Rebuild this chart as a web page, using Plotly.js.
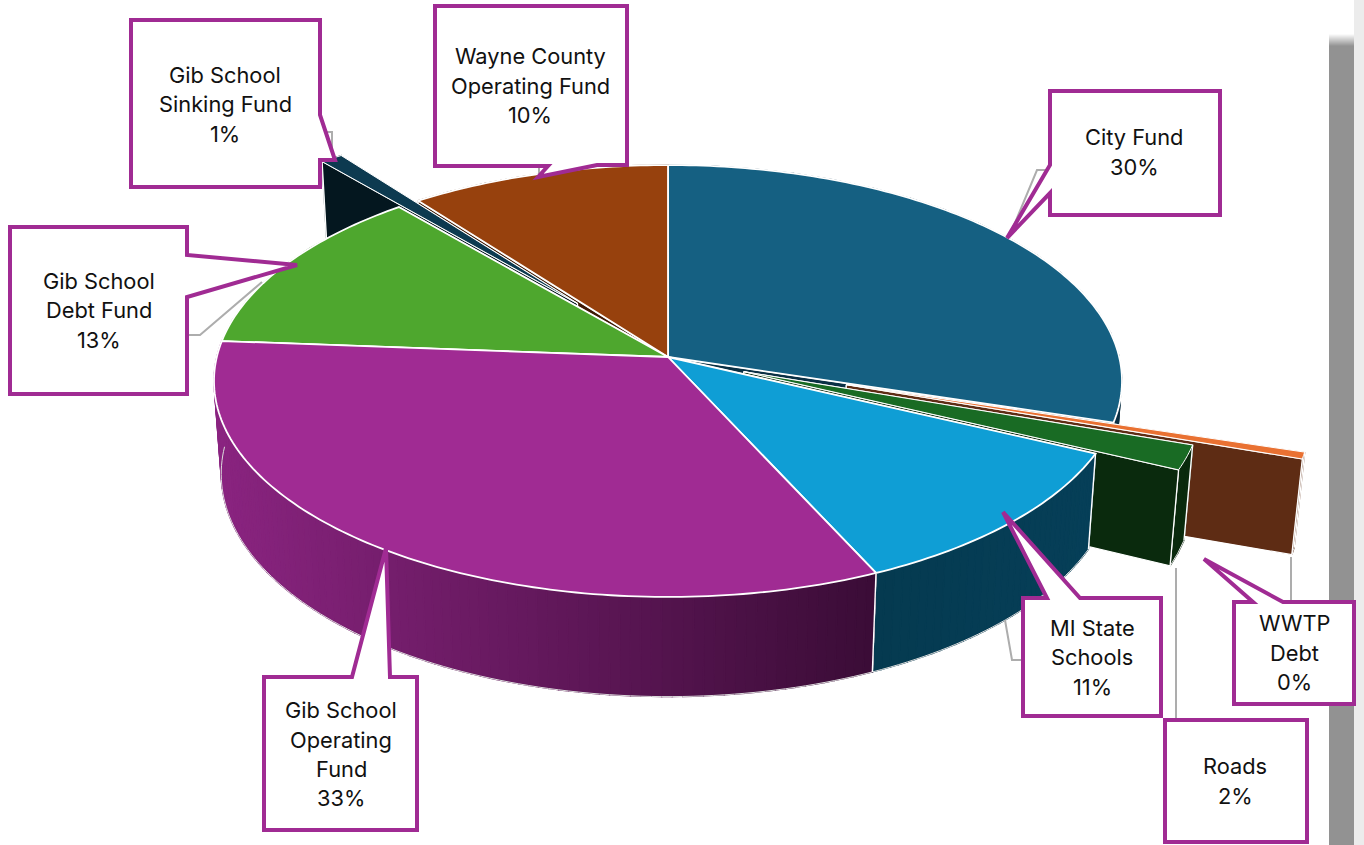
<!DOCTYPE html>
<html><head><meta charset="utf-8">
<script src="https://cdn.plot.ly/plotly-3.0.1.min.js"></script>
<style>html,body{margin:0;padding:0;background:#fff;overflow:hidden}#c{width:1364px;height:845px}</style>
</head><body><div id="c"></div>
<script>
// ---- data (clockwise from 12 o'clock) ----
const categories = ["City Fund","WWTP Debt","Roads","MI State Schools","Gib School Operating Fund","Gib School Debt Fund","Gib School Sinking Fund","Wayne County Operating Fund"];
const values     = [29.8, 0.49, 1.81, 11.1, 33.0, 12.6, 0.9, 10.3];
const explode    = [0, 0.41, 0.18, 0, 0, 0, 0.33, 0];
const topColors  = ["#156082","#e97132","#196b24","#0f9ed5","#a02b93","#4ea72e","#0d3a50","#97410d"];
const wallColors = [["#0a3044","#0a3044"],["#5e2c14","#5e2c14"],["#0a2a0d","#0a2a0d"],["#063f58","#053a50"],["#3a0c36","#8a2480"],["#27541a","#27541a"],["#04171f","#04171f"],["#3f1a05","#3f1a05"]];
const labelLines = [["City Fund"],["WWTP","Debt"],["Roads"],["MI State","Schools"],["Gib School","Operating","Fund"],["Gib School","Debt Fund"],["Gib School","Sinking Fund"],["Wayne County","Operating Fund"]];
const drawOrder  = [0,7,6,5,1,2,3,4];

// ---- projection of the tilted disc ----
const cx=668, cy=357, A=451.2, B=213.3, H=94, K=1/9, M=0.016;
function P(u,v,z){const w=1+K*v+M*z;return [cx+A*u/w, cy+(-B*v+H*z)/w];}
const rad=d=>d*Math.PI/180;
function hex(c){return [1,3,5].map(i=>parseInt(c.slice(i,i+2),16));}
function mix(a,b,t){const p=hex(a),q=hex(b);return 'rgb('+p.map((x,i)=>Math.round(x+(q[i]-x)*t)).join(',')+')';}
const traces=[];
function line(pts,color,lw){
  traces.push({type:'scatter',mode:'lines',x:pts.map(p=>p[0]),y:pts.map(p=>p[1]),line:{color,width:lw,simplify:false},hoverinfo:'skip',showlegend:false});
}
function poly(pts,fill,lineColor,lw){
  traces.push({type:'scatter',mode:'lines',x:pts.map(p=>p[0]).concat(pts[0][0]),y:pts.map(p=>p[1]).concat(pts[0][1]),
    fill:'toself',fillcolor:fill,line:{color:lineColor,width:lw,simplify:false},hoverinfo:'skip',showlegend:false});
}
const total=values.reduce((a,b)=>a+b,0);
let acc=0;
const slices=values.map((val,i)=>{const s=acc/total*360;acc+=val;const e=acc/total*360;const m=(s+e)/2;
  return {i,s,e,m,ax:explode[i]*Math.sin(rad(m)),ay:explode[i]*Math.cos(rad(m))};});
function rimPt(sl,deg,z){return P(sl.ax+Math.sin(rad(deg)),sl.ay+Math.cos(rad(deg)),z);}
function drawSlice(sl){
  const [c0,c1]=wallColors[sl.i];
  const narrow=(sl.e-sl.s)<8;
  const radial=deg=>{const a=P(sl.ax,sl.ay,0),b=rimPt(sl,deg,0),c=rimPt(sl,deg,1),d=P(sl.ax,sl.ay,1);poly([a,b,c,d],deg===sl.s?c0:c1,'#ffffff',1.2);};
  const rim=()=>{
    const n=Math.max(1,Math.ceil((sl.e-sl.s)/(c0===c1?6:1.2)));
    const samples=[];for(let j=0;j<=n;j++)samples.push(rimPt(sl,sl.s+(sl.e-sl.s)*j/n,0)[0]);
    const xMax=Math.max(...samples),xMin=Math.min(...samples);
    for(let j=0;j<n;j++){const d0=sl.s+(sl.e-sl.s)*j/n,d1=sl.s+(sl.e-sl.s)*(j+1)/n;
      const xm=(samples[j]+samples[j+1])/2;
      const col=mix(c0,c1,xMax>xMin?(xMax-xm)/(xMax-xMin):0);
      poly([rimPt(sl,d0,0),rimPt(sl,d1,0),rimPt(sl,d1,1),rimPt(sl,d0,1)],col,col,1.3);}
    // faint outline along the lower edge, only on the part of the rim that faces the viewer
    const bottom=[];for(let j=0;j<=n;j++){const d=sl.s+(sl.e-sl.s)*j/n;if(Math.cos(rad(d))<0.02)bottom.push(rimPt(sl,d,1));}
    if(bottom.length>1)line(bottom,'#dcdcdc',1);
    line([rimPt(sl,sl.s,0),rimPt(sl,sl.s,1)],'#ffffff',1.4);
    line([rimPt(sl,sl.e,0),rimPt(sl,sl.e,1)],'#ffffff',1.4);
  };
  const faces=[{n:sl.s-90,f:()=>radial(sl.s)},{n:sl.e+90,f:()=>radial(sl.e)},{n:sl.m,f:rim}];
  faces.sort((a,b)=>Math.cos(rad(b.n))-Math.cos(rad(a.n))).forEach(o=>o.f());
  const top=[P(sl.ax,sl.ay,0)];
  const n=Math.max(2,Math.ceil(sl.e-sl.s));
  for(let j=0;j<=n;j++) top.push(rimPt(sl,sl.s+(sl.e-sl.s)*j/n,0));
  poly(top,topColors[sl.i],'#ffffff',narrow?1:1.8);
}
drawOrder.forEach(i=>drawSlice(slices[i]));

// ---- callouts ----
const border='#a02b93';
const calloutPaths=[
 'M1050,91 L1220,91 L1220,215 L1050,215 L1050,193 L1007,238 L1050,165 Z',
 'M435,6 L627,6 L627,165 L597,165 L538,177 L548,166 L435,166 Z',
 'M131,20 L320,20 L320,115 L335,160 L320,160 L320,187 L131,187 Z',
 'M10,227 L187,227 L187,255 L297,265 L187,297 L187,394 L10,394 Z',
 'M264,677 L352,677 L386,548 L390,677 L417,677 L417,830 L264,830 Z',
 'M1023,598 L1047,598 L1003,512 L1080,598 L1161,598 L1161,716 L1023,716 Z',
 'M1234,602 L1253,602 L1204,559 L1283,602 L1354,602 L1354,704 L1234,704 Z',
 'M1165,720 L1307,720 L1307,842 L1165,842 Z'
];
const leaderPaths=[
 'M1012,230 L1037,170 L1050,170','M539,177 L539,165','M320,132 L332,132 L332,158',
 'M188,335 L200,335 L262,282','M1005,620 L1012,660 L1023,660','M1176,568 L1176,720','M1291,557 L1291,602'
];
const shapes=[];
// scrollbar strip
shapes.push({type:'rect',xref:'x',yref:'y',x0:1354,x1:1364,y0:0,y1:845,fillcolor:'#ececec',line:{width:0},layer:'below'});
shapes.push({type:'rect',xref:'x',yref:'y',x0:1329,x1:1354,y0:46,y1:845,fillcolor:'#929292',line:{width:0},layer:'below'});
for(let i=0;i<12;i++){const t=(i+.5)/12;shapes.push({type:'rect',xref:'x',yref:'y',x0:1329,x1:1354,y0:34+i,y1:35+i,fillcolor:mix('#ffffff','#929292',t),line:{width:0},layer:'below'});}
leaderPaths.forEach(p=>shapes.push({type:'path',path:p,xref:'x',yref:'y',line:{color:'#adadad',width:2},layer:'above'}));
calloutPaths.forEach(p=>shapes.push({type:'path',path:p,xref:'x',yref:'y',fillcolor:'#ffffff',line:{color:border,width:4},layer:'above'}));

// ---- label text: [category index, centre x, line centre ys] ----
const labelPlaces=[[0,1134,[138,168]],[7,530,[57,87,116]],[6,225,[76,105,135]],[5,99,[282,311,341]],[4,341,[711,741,770,799]],[3,1092,[629,658,688]],[1,1294,[624,654,683]],[2,1235,[767,797]]];
const annotations=[];
labelPlaces.forEach(([i,x,ys])=>{
  const lines=labelLines[i].concat(Math.round(values[i]/total*100)+'%');
  lines.forEach((t,k)=>annotations.push({xref:'x',yref:'y',x,y:ys[k]-0.8,text:t,showarrow:false,xanchor:'center',yanchor:'middle',
    font:{family:'Inter, "Noto Sans", sans-serif',size:21.8,color:'#111111'}}));
});

Plotly.newPlot('c',traces,{
  width:1364,height:845,margin:{l:0,r:0,t:0,b:0},paper_bgcolor:'#ffffff',plot_bgcolor:'rgba(0,0,0,0)',showlegend:false,
  xaxis:{range:[0,1364],visible:false,fixedrange:true},
  yaxis:{range:[845,0],visible:false,fixedrange:true},
  shapes,annotations,hovermode:false
},{displayModeBar:false,staticPlot:true});
</script></body></html>
